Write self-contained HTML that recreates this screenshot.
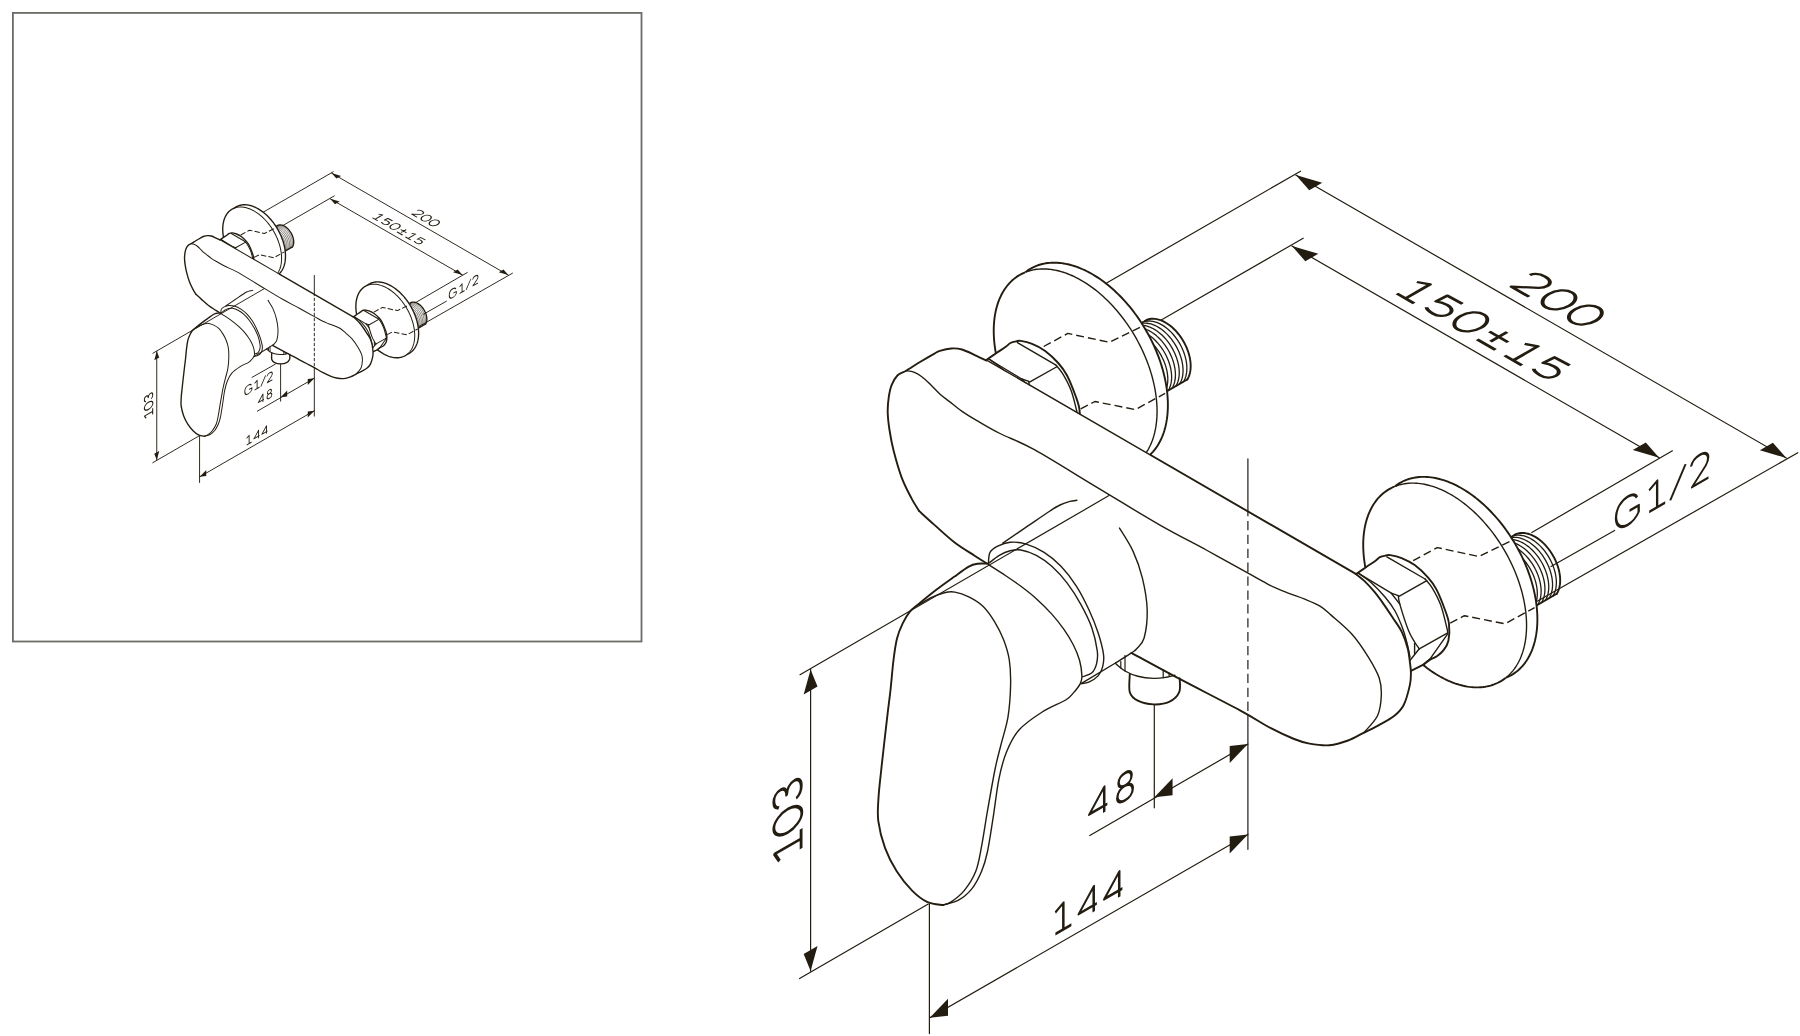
<!DOCTYPE html>
<html><head><meta charset="utf-8"><style>
html,body{margin:0;padding:0;background:#fff;}
svg{display:block;}
path{fill:none;stroke:#231c10;stroke-linecap:round;stroke-linejoin:round;}
.t{stroke-width:var(--t,1.2px)}
.n{stroke-width:var(--n,1.4px)}
.k{stroke-width:var(--k,1.9px)}
.dsh{stroke-dasharray:var(--da,8 4);stroke-linecap:butt}
.th{stroke-width:var(--th,1.3px)}
.dsh2{stroke-dasharray:9.3 4.6;stroke-dashoffset:5;stroke-linecap:butt}
path.ar{fill:#231c10;stroke:none}
path.w{fill:#fff;stroke:none}
.tx path{stroke-linecap:butt;stroke-linejoin:round}
</style></head><body>
<svg width="1800" height="1036" viewBox="0 0 1800 1036">
<rect x="12.9" y="12.9" width="628.6" height="628.6" fill="none" stroke="#6c6c66" stroke-width="1.8"/>
<g id="big">
<path class="t" d="M1295.8,174.9 L1786.3,458"/>
<path class="ar" d="M1295.8,174.9 L1322.21,182.65 L1309.22,190.15Z"/>
<path class="ar" d="M1786.3,458 L1772.88,442.75 L1759.89,450.25Z"/>
<path class="t" d="M1103.6,284.7 L1300.5,171.2"/>
<path class="t" d="M1535,602.6 L1797.8,452.7"/>
<path class="t" d="M1291.9,246 L1659.2,457.8"/>
<path class="ar" d="M1291.9,246 L1318.31,253.75 L1305.32,261.25Z"/>
<path class="ar" d="M1659.2,457.8 L1645.78,442.55 L1632.79,450.05Z"/>
<path class="t" d="M1160.8,320.3 L1303.2,238.2"/>
<path class="t" d="M1531.8,532.5 L1672.4,450.8"/>
<path class="t" d="M1551,566.5 L1614.6,530.4"/>
<path class="t" d="M810.6,669.5 L810.6,971.1"/>
<path class="ar" d="M810.6,669.5 L817.53,686.5 L803.67,694.5Z"/>
<path class="ar" d="M810.6,971.1 L817.53,946.1 L803.67,954.1Z"/>
<path class="t" d="M799.6,978.6 L928.3,904.1"/>
<path class="t" d="M929.4,904.1 L929.4,1033.6"/>
<path class="t" d="M929.8,1017.8 L1247.9,834.4"/>
<path class="ar" d="M929.8,1017.8 L947.99,1015.8 L947.99,998.8Z"/>
<path class="ar" d="M1247.9,834.4 L1229.71,853.4 L1229.71,836.4Z"/>
<path class="t" d="M1247.9,458.9 L1247.9,512"/>
<path class="t" d="M1247.9,714 L1247.9,849.3"/>
<path class="t" d="M1154.3,705 L1154.3,807.8"/>
<path class="t" d="M1089.8,835.6 L1247.9,744.1"/>
<path class="ar" d="M1154.4,797.2 L1172.59,795.2 L1172.59,778.2Z"/>
<path class="ar" d="M1247.9,744.1 L1229.71,763.1 L1229.71,746.1Z"/>
<clipPath id="clipF369"><path clip-rule="evenodd" d="M0,0 H1800 V1036 H0Z M1399.98,482.92 L1404.01,480.86 L1408.25,479.22 L1412.7,478.01 L1417.33,477.23 L1422.13,476.89 L1427.07,476.98 L1432.13,477.51 L1437.3,478.48 L1442.54,479.87 L1447.84,481.69 L1453.17,483.93 L1458.52,486.57 L1463.85,489.61 L1469.15,493.03 L1474.39,496.82 L1479.55,500.97 L1484.6,505.44 L1489.54,510.23 L1494.33,515.32 L1498.95,520.68 L1503.39,526.29 L1507.63,532.12 L1511.64,538.15 L1515.41,544.36 L1518.93,550.72 L1522.18,557.2 L1525.14,563.77 L1527.8,570.41 L1530.16,577.08 L1532.2,583.77 L1533.91,590.43 L1535.28,597.04 L1536.32,603.58 L1537,610.01 L1537.35,616.3 L1537.34,622.44 L1536.98,628.39 L1536.27,634.13 L1535.22,639.64 L1533.83,644.88 L1532.11,649.84 L1530.05,654.5 L1527.68,658.84 L1525,662.83 L1522.03,666.47 L1518.77,669.73 L1515.24,672.6 L1511.45,675.07 L1507.43,677.13 L1503.18,678.77 L1498.73,679.98 L1494.1,680.76 L1489.3,681.1 L1484.36,681.01 L1479.3,680.48 L1474.14,679.51 L1468.89,678.12 L1463.59,676.3 L1458.26,674.06 L1452.92,671.41 L1447.58,668.38 L1442.29,664.95 L1437.05,661.16 L1431.89,657.02 L1426.83,652.54 L1421.89,647.75 L1417.11,642.67 L1412.48,637.31 L1408.04,631.7 L1403.81,625.87 L1399.8,619.83 L1396.02,613.62 L1392.5,607.27 L1389.26,600.79 L1386.3,594.21 L1383.63,587.58 L1381.28,580.9 L1379.24,574.22 L1377.53,567.56 L1376.15,560.95 L1375.12,554.41 L1374.43,547.98 L1374.09,541.68 L1374.1,535.55 L1374.45,529.59 L1375.16,523.85 L1376.21,518.35 L1377.6,513.11 L1379.33,508.14 L1381.38,503.48 L1383.75,499.15 L1386.43,495.16 L1389.41,491.52 L1392.67,488.26 L1396.2,485.39 L1399.98,482.92Z"/></clipPath>
<g clip-path="url(#clipF369)">
<path class="k" d="M1556.77,593.74 L1557.64,592.2 L1558.39,590.54 L1559.01,588.76 L1559.5,586.87 L1559.86,584.89 L1560.09,582.81 L1560.18,580.65 L1560.14,578.42 L1559.96,576.14 L1559.64,573.81 L1559.19,571.44 L1558.62,569.06 L1557.91,566.66 L1557.08,564.26 L1556.13,561.88 L1555.06,559.52 L1553.89,557.19 L1552.61,554.92 L1551.23,552.71 L1549.76,550.56 L1548.21,548.5 L1546.58,546.53 L1544.89,544.66 L1543.13,542.91 L1541.33,541.27 L1539.48,539.76 L1537.6,538.39 L1535.7,537.16 L1533.78,536.07 L1531.87,535.14 L1529.95,534.37 L1528.06,533.77 L1526.18,533.32 L1524.34,533.05 L1522.55,532.94 L1520.81,533.01 L1519.12,533.24 L1517.51,533.64 L1515.98,534.21 L1514.53,534.94"/>
<path class="th" d="M1552.96,595.94 L1553.83,594.4 L1554.58,592.74 L1555.2,590.96 L1555.69,589.07 L1556.05,587.09 L1556.28,585.01 L1556.37,582.85 L1556.32,580.62 L1556.14,578.34 L1555.83,576.01 L1555.38,573.64 L1554.8,571.26 L1554.1,568.86 L1553.27,566.46 L1552.32,564.08 L1551.25,561.72 L1550.08,559.39 L1548.8,557.12 L1547.42,554.91 L1545.95,552.76 L1544.4,550.7 L1542.77,548.73 L1541.08,546.86 L1539.32,545.11 L1537.52,543.47 L1535.67,541.96 L1533.79,540.59 L1531.89,539.36 L1529.97,538.27 L1528.06,537.34 L1526.14,536.57 L1524.24,535.97 L1522.37,535.52 L1520.53,535.25 L1518.74,535.14 L1517,535.21 L1515.31,535.44 L1513.7,535.84 L1512.17,536.41 L1510.72,537.14"/>
<path class="th" d="M1549.15,598.14 L1550.02,596.6 L1550.77,594.94 L1551.39,593.16 L1551.88,591.27 L1552.24,589.29 L1552.47,587.21 L1552.56,585.05 L1552.51,582.82 L1552.33,580.54 L1552.02,578.21 L1551.57,575.84 L1550.99,573.46 L1550.29,571.06 L1549.46,568.66 L1548.51,566.28 L1547.44,563.92 L1546.27,561.59 L1544.99,559.32 L1543.61,557.11 L1542.14,554.96 L1540.59,552.9 L1538.96,550.93 L1537.27,549.06 L1535.51,547.31 L1533.71,545.67 L1531.86,544.16 L1529.98,542.79 L1528.08,541.56 L1526.16,540.47 L1524.24,539.54 L1522.33,538.77 L1520.43,538.17 L1518.56,537.72 L1516.72,537.45 L1514.93,537.34 L1513.19,537.41 L1511.5,537.64 L1509.89,538.04 L1508.36,538.61 L1506.91,539.34"/>
<path class="th" d="M1545.34,600.34 L1546.21,598.8 L1546.96,597.14 L1547.58,595.36 L1548.07,593.47 L1548.43,591.49 L1548.66,589.41 L1548.75,587.25 L1548.7,585.02 L1548.52,582.74 L1548.21,580.41 L1547.76,578.04 L1547.18,575.66 L1546.48,573.26 L1545.65,570.86 L1544.7,568.48 L1543.63,566.12 L1542.46,563.79 L1541.18,561.52 L1539.8,559.31 L1538.33,557.16 L1536.78,555.1 L1535.15,553.13 L1533.45,551.26 L1531.7,549.51 L1529.89,547.87 L1528.05,546.36 L1526.17,544.99 L1524.27,543.76 L1522.35,542.67 L1520.43,541.74 L1518.52,540.97 L1516.62,540.37 L1514.75,539.92 L1512.91,539.65 L1511.12,539.54 L1509.37,539.61 L1507.69,539.84 L1506.08,540.24 L1504.55,540.81 L1503.1,541.54"/>
<path class="th" d="M1541.53,602.54 L1542.4,601 L1543.15,599.34 L1543.77,597.56 L1544.26,595.67 L1544.62,593.69 L1544.85,591.61 L1544.94,589.45 L1544.89,587.22 L1544.71,584.94 L1544.4,582.61 L1543.95,580.24 L1543.37,577.86 L1542.67,575.46 L1541.84,573.06 L1540.89,570.68 L1539.82,568.32 L1538.65,565.99 L1537.37,563.72 L1535.99,561.51 L1534.52,559.36 L1532.97,557.3 L1531.34,555.33 L1529.64,553.46 L1527.89,551.71 L1526.08,550.07 L1524.24,548.56 L1522.36,547.19 L1520.46,545.96 L1518.54,544.87 L1516.62,543.94 L1514.71,543.17 L1512.81,542.57 L1510.94,542.12 L1509.1,541.85 L1507.31,541.74 L1505.56,541.81 L1503.88,542.04 L1502.27,542.44 L1500.74,543.01 L1499.29,543.74"/>
<path class="th" d="M1537.72,604.74 L1538.59,603.2 L1539.34,601.54 L1539.96,599.76 L1540.45,597.87 L1540.81,595.89 L1541.04,593.81 L1541.13,591.65 L1541.08,589.42 L1540.9,587.14 L1540.59,584.81 L1540.14,582.44 L1539.56,580.06 L1538.86,577.66 L1538.03,575.26 L1537.08,572.88 L1536.01,570.52 L1534.83,568.19 L1533.56,565.92 L1532.18,563.71 L1530.71,561.56 L1529.16,559.5 L1527.53,557.53 L1525.83,555.66 L1524.08,553.91 L1522.27,552.27 L1520.43,550.76 L1518.55,549.39 L1516.65,548.16 L1514.73,547.07 L1512.81,546.14 L1510.9,545.37 L1509,544.77 L1507.13,544.32 L1505.29,544.05 L1503.5,543.94 L1501.75,544.01 L1500.07,544.24 L1498.46,544.64 L1496.93,545.21 L1495.48,545.94"/>
<path class="th" d="M1533.91,606.94 L1534.78,605.4 L1535.53,603.74 L1536.15,601.96 L1536.64,600.07 L1537,598.09 L1537.23,596.01 L1537.32,593.85 L1537.27,591.62 L1537.09,589.34 L1536.78,587.01 L1536.33,584.64 L1535.75,582.26 L1535.05,579.86 L1534.22,577.46 L1533.27,575.08 L1532.2,572.72 L1531.02,570.39 L1529.74,568.12 L1528.37,565.91 L1526.9,563.76 L1525.35,561.7 L1523.72,559.73 L1522.02,557.86 L1520.27,556.11 L1518.46,554.47 L1516.62,552.96 L1514.74,551.59 L1512.84,550.36 L1510.92,549.27 L1509,548.34 L1507.09,547.57 L1505.19,546.97 L1503.32,546.52 L1501.48,546.25 L1499.69,546.14 L1497.94,546.21 L1496.26,546.44 L1494.65,546.84 L1493.11,547.41 L1491.67,548.14"/>
<path class="th" d="M1530.1,609.14 L1530.97,607.6 L1531.72,605.94 L1532.34,604.16 L1532.83,602.27 L1533.19,600.29 L1533.42,598.21 L1533.51,596.05 L1533.46,593.82 L1533.28,591.54 L1532.97,589.21 L1532.52,586.84 L1531.94,584.46 L1531.24,582.06 L1530.41,579.66 L1529.46,577.28 L1528.39,574.92 L1527.21,572.59 L1525.93,570.32 L1524.56,568.11 L1523.09,565.96 L1521.54,563.9 L1519.91,561.93 L1518.21,560.06 L1516.46,558.31 L1514.65,556.67 L1512.81,555.16 L1510.93,553.79 L1509.03,552.56 L1507.11,551.47 L1505.19,550.54 L1503.28,549.77 L1501.38,549.17 L1499.51,548.72 L1497.67,548.45 L1495.88,548.34 L1494.13,548.41 L1492.45,548.64 L1490.84,549.04 L1489.3,549.61 L1487.85,550.34"/>
<path class="th" d="M1526.28,611.34 L1527.16,609.8 L1527.91,608.14 L1528.53,606.36 L1529.02,604.47 L1529.38,602.49 L1529.61,600.41 L1529.7,598.25 L1529.65,596.02 L1529.47,593.74 L1529.16,591.41 L1528.71,589.04 L1528.13,586.66 L1527.43,584.26 L1526.59,581.86 L1525.64,579.48 L1524.58,577.12 L1523.4,574.79 L1522.12,572.52 L1520.75,570.31 L1519.28,568.16 L1517.73,566.1 L1516.1,564.13 L1514.4,562.26 L1512.65,560.51 L1510.84,558.87 L1509,557.36 L1507.12,555.99 L1505.22,554.76 L1503.3,553.67 L1501.38,552.74 L1499.47,551.97 L1497.57,551.37 L1495.7,550.92 L1493.86,550.65 L1492.07,550.54 L1490.32,550.61 L1488.64,550.84 L1487.03,551.24 L1485.49,551.81 L1484.04,552.54"/>
<path class="n" d="M1514.53,534.94 L1484.04,552.54"/>
<path class="k" d="M1556.77,593.74 L1526.28,611.34"/>
</g>
<path class="w" d="M1389.16,489.17 L1393.18,487.11 L1397.43,485.47 L1401.87,484.26 L1406.51,483.48 L1411.3,483.14 L1416.24,483.23 L1421.31,483.76 L1426.47,484.73 L1431.71,486.12 L1437.01,487.94 L1442.35,490.18 L1447.69,492.82 L1453.02,495.86 L1458.32,499.28 L1463.56,503.07 L1468.72,507.22 L1473.78,511.69 L1478.71,516.48 L1483.5,521.57 L1488.13,526.93 L1492.57,532.54 L1496.8,538.37 L1500.81,544.4 L1504.59,550.61 L1508.1,556.97 L1511.35,563.45 L1514.31,570.02 L1516.98,576.66 L1519.33,583.33 L1521.37,590.02 L1523.08,596.68 L1524.46,603.29 L1525.49,609.83 L1526.18,616.26 L1526.52,622.55 L1526.51,628.69 L1526.15,634.64 L1525.45,640.38 L1524.4,645.89 L1523.01,651.13 L1521.28,656.09 L1519.23,660.75 L1516.86,665.09 L1514.18,669.08 L1511.2,672.72 L1507.94,675.98 L1504.41,678.85 L1500.63,681.32 L1496.6,683.38 L1492.36,685.02 L1487.91,686.23 L1483.28,687.01 L1478.48,687.35 L1473.54,687.26 L1468.48,686.73 L1463.31,685.76 L1458.07,684.37 L1452.77,682.55 L1447.44,680.31 L1442.09,677.66 L1436.76,674.63 L1431.46,671.2 L1426.22,667.41 L1421.06,663.27 L1416,658.79 L1411.07,654 L1406.28,648.92 L1401.66,643.56 L1397.22,637.95 L1392.98,632.12 L1388.97,626.08 L1385.2,619.87 L1381.68,613.52 L1378.43,607.04 L1375.47,600.46 L1372.81,593.83 L1370.45,587.15 L1368.41,580.47 L1366.7,573.81 L1365.33,567.2 L1364.29,560.66 L1363.6,554.23 L1363.26,547.93 L1363.27,541.8 L1363.63,535.84 L1364.33,530.1 L1365.39,524.6 L1366.78,519.36 L1368.5,514.39 L1370.56,509.73 L1372.93,505.4 L1375.61,501.41 L1378.58,497.77 L1381.84,494.51 L1385.37,491.64 L1389.16,489.17Z"/>
<path class="w" d="M1399.98,482.92 L1404.01,480.86 L1408.25,479.22 L1412.7,478.01 L1417.33,477.23 L1422.13,476.89 L1427.07,476.98 L1432.13,477.51 L1437.3,478.48 L1442.54,479.87 L1447.84,481.69 L1453.17,483.93 L1458.52,486.57 L1463.85,489.61 L1469.15,493.03 L1474.39,496.82 L1479.55,500.97 L1484.6,505.44 L1489.54,510.23 L1494.33,515.32 L1498.95,520.68 L1503.39,526.29 L1507.63,532.12 L1511.64,538.15 L1515.41,544.36 L1518.93,550.72 L1522.18,557.2 L1525.14,563.77 L1527.8,570.41 L1530.16,577.08 L1532.2,583.77 L1533.91,590.43 L1535.28,597.04 L1536.32,603.58 L1537,610.01 L1537.35,616.3 L1537.34,622.44 L1536.98,628.39 L1536.27,634.13 L1535.22,639.64 L1533.83,644.88 L1532.11,649.84 L1530.05,654.5 L1527.68,658.84 L1525,662.83 L1522.03,666.47 L1518.77,669.73 L1515.24,672.6 L1511.45,675.07 L1507.43,677.13 L1503.18,678.77 L1498.73,679.98 L1494.1,680.76 L1489.3,681.1 L1484.36,681.01 L1479.3,680.48 L1474.14,679.51 L1468.89,678.12 L1463.59,676.3 L1458.26,674.06 L1452.92,671.41 L1447.58,668.38 L1442.29,664.95 L1437.05,661.16 L1431.89,657.02 L1426.83,652.54 L1421.89,647.75 L1417.11,642.67 L1412.48,637.31 L1408.04,631.7 L1403.81,625.87 L1399.8,619.83 L1396.02,613.62 L1392.5,607.27 L1389.26,600.79 L1386.3,594.21 L1383.63,587.58 L1381.28,580.9 L1379.24,574.22 L1377.53,567.56 L1376.15,560.95 L1375.12,554.41 L1374.43,547.98 L1374.09,541.68 L1374.1,535.55 L1374.45,529.59 L1375.16,523.85 L1376.21,518.35 L1377.6,513.11 L1379.33,508.14 L1381.38,503.48 L1383.75,499.15 L1386.43,495.16 L1389.41,491.52 L1392.67,488.26 L1396.2,485.39 L1399.98,482.92Z"/>
<path class="w" d="M1500.55,681.36 L1505.07,678.36 L1509.21,674.78 L1512.96,670.65 L1516.29,665.99 L1519.18,660.84 L1521.62,655.22 L1523.57,649.17 L1525.05,642.72 L1526.03,635.92 L1526.51,628.81 L1526.48,621.43 L1525.96,613.82 L1524.93,606.04 L1523.41,598.14 L1521.41,590.15 L1518.93,582.13 L1516,574.13 L1512.63,566.2 L1508.84,558.39 L1504.66,550.74 L1500.11,543.3 L1495.22,536.13 L1490.01,529.25 L1484.53,522.72 L1478.81,516.58 L1472.88,510.86 L1466.77,505.6 L1460.53,500.83 L1454.19,496.58 L1447.8,492.88 L1441.38,489.74 L1434.99,487.2 L1428.66,485.26 L1422.43,483.94 L1416.34,483.24 L1410.43,483.17 L1404.72,483.73 L1399.27,484.91 L1394.09,486.71 L1389.23,489.12 L1400.06,482.87 L1404.92,480.46 L1410.09,478.66 L1415.55,477.48 L1421.25,476.92 L1427.17,476.99 L1433.26,477.69 L1439.49,479.01 L1445.82,480.95 L1452.21,483.49 L1458.62,486.63 L1465.02,490.33 L1471.35,494.58 L1477.59,499.35 L1483.7,504.61 L1489.63,510.33 L1495.36,516.47 L1500.84,523 L1506.04,529.88 L1510.93,537.05 L1515.48,544.49 L1519.67,552.14 L1523.45,559.95 L1526.82,567.88 L1529.76,575.88 L1532.23,583.9 L1534.24,591.89 L1535.76,599.79 L1536.78,607.57 L1537.31,615.18 L1537.33,622.56 L1536.85,629.67 L1535.87,636.47 L1534.4,642.92 L1532.44,648.97 L1530.01,654.59 L1527.12,659.74 L1523.79,664.4 L1520.04,668.53 L1515.89,672.11 L1511.37,675.11Z"/>
<path class="k" d="M1505.14,678.3 L1503.67,679.37 L1502.17,680.38 L1500.63,681.32 L1499.04,682.19 L1497.42,683 L1495.77,683.74 L1494.08,684.41 L1492.36,685.02 L1490.6,685.55 L1488.81,686.02 L1487,686.42 L1485.15,686.75 L1483.28,687.01 L1481.38,687.2 L1479.45,687.32 L1477.5,687.37 L1475.53,687.35 L1473.54,687.26 L1471.53,687.1 L1469.5,686.87 L1467.45,686.57 L1465.39,686.2 L1463.31,685.76 L1461.22,685.25 L1459.12,684.68 L1457.01,684.03 L1454.89,683.32 L1452.77,682.55 L1450.64,681.7 L1448.5,680.79 L1446.37,679.81 L1444.23,678.77 L1442.09,677.66 L1439.96,676.5 L1437.82,675.26 L1435.7,673.97 L1433.57,672.62 L1431.46,671.2 L1429.36,669.73 L1427.26,668.2 L1425.18,666.61 L1423.11,664.97 L1421.06,663.27 L1419.02,661.52 L1417.01,659.72 L1415.01,657.86 L1413.03,655.96 L1411.07,654 L1409.14,652 L1407.23,649.96 L1405.34,647.87 L1403.48,645.73 L1401.66,643.56 L1399.86,641.34 L1398.09,639.09 L1396.35,636.8 L1394.65,634.48 L1392.98,632.12 L1391.35,629.73 L1389.75,627.3 L1388.2,624.85 L1386.68,622.38 L1385.2,619.87 L1383.76,617.35 L1382.36,614.8 L1381.01,612.23 L1379.7,609.64 L1378.43,607.04 L1377.21,604.42 L1376.04,601.79 L1374.91,599.14 L1373.84,596.49 L1372.81,593.83 L1371.83,591.16 L1370.9,588.49 L1370.02,585.82 L1369.19,583.14 L1368.41,580.47 L1367.69,577.8 L1367.02,575.14 L1366.4,572.48 L1365.84,569.83 L1365.33,567.2 L1364.87,564.57 L1364.47,561.96 L1364.13,559.37 L1363.84,556.79 L1363.6,554.23 L1363.43,551.69 L1363.3,549.18 L1363.24,546.69 L1363.23,544.23 L1363.27,541.8 L1363.37,539.39 L1363.53,537.02 L1363.74,534.68 L1364.01,532.37 L1364.33,530.1 L1364.71,527.87 L1365.15,525.68 L1365.64,523.53 L1366.18,521.42 L1366.78,519.36 L1367.43,517.34 L1368.13,515.36 L1368.89,513.44 L1369.7,511.56 L1370.56,509.73 L1371.47,507.96 L1372.43,506.24 L1373.44,504.57 L1374.5,502.96 L1375.61,501.41 L1376.76,499.91 L1377.96,498.47 L1379.21,497.09 L1380.51,495.77 L1381.84,494.51 L1383.22,493.32 L1384.65,492.18 L1386.11,491.11 L1387.61,490.11 L1389.16,489.17 L1390.74,488.3 L1392.36,487.49 L1394.01,486.75"/>
<path class="n" d="M1395.7,486.08 L1397.43,485.47 L1399.18,484.94 L1400.97,484.47 L1402.79,484.07 L1404.63,483.74 L1406.51,483.48 L1408.41,483.29 L1410.33,483.17 L1412.28,483.12 L1414.25,483.14 L1416.24,483.23 L1418.26,483.39 L1420.29,483.62 L1422.33,483.92 L1424.4,484.29 L1426.47,484.73 L1428.56,485.23 L1430.66,485.81 L1432.77,486.45 L1434.89,487.16 L1437.01,487.94 L1439.14,488.79 L1441.28,489.7 L1443.42,490.67 L1445.55,491.72 L1447.69,492.82 L1449.83,493.99 L1451.96,495.22 L1454.09,496.52 L1456.21,497.87 L1458.32,499.28 L1460.43,500.76 L1462.52,502.29 L1464.6,503.87 L1466.67,505.52 L1468.72,507.22 L1470.76,508.97 L1472.78,510.77 L1474.78,512.63 L1476.76,514.53 L1478.71,516.48 L1480.65,518.48 L1482.56,520.53 L1484.44,522.62 L1486.3,524.75 L1488.13,526.93 L1489.93,529.14 L1491.69,531.4 L1493.43,533.69 L1495.13,536.01 L1496.8,538.37 L1498.43,540.76 L1500.03,543.18 L1501.59,545.63 L1503.11,548.11 L1504.59,550.61 L1506.02,553.14 L1507.42,555.69 L1508.77,558.26 L1510.08,560.85 L1511.35,563.45 L1512.57,566.07 L1513.74,568.7 L1514.87,571.35 L1515.95,574 L1516.98,576.66 L1517.96,579.33 L1518.89,582 L1519.77,584.67 L1520.59,587.34 L1521.37,590.02 L1522.09,592.68 L1522.76,595.35 L1523.38,598 L1523.95,600.65 L1524.46,603.29 L1524.91,605.92 L1525.31,608.53 L1525.66,611.12 L1525.94,613.7 L1526.18,616.26 L1526.36,618.79 L1526.48,621.31 L1526.55,623.79 L1526.56,626.26 L1526.51,628.69 L1526.41,631.1 L1526.25,633.47 L1526.04,635.81 L1525.77,638.11 L1525.45,640.38 L1525.07,642.61 L1524.63,644.81 L1524.15,646.96 L1523.6,649.07 L1523.01,651.13 L1522.36,653.15 L1521.65,655.12 L1520.9,657.05 L1520.09,658.93 L1519.23,660.75 L1518.32,662.53 L1517.36,664.25 L1516.34,665.91 L1515.28,667.53 L1514.18,669.08 L1513.02,670.58 L1511.82,672.02 L1510.57,673.4 L1509.28,674.72 L1507.94,675.98 L1506.56,677.17"/>
<path class="k" d="M1395.47,485.93 L1396.93,484.86 L1398.44,483.86 L1399.98,482.92 L1401.56,482.05 L1403.18,481.24 L1404.84,480.5 L1406.53,479.83 L1408.25,479.22 L1410.01,478.69 L1411.79,478.22 L1413.61,477.82 L1415.46,477.49 L1417.33,477.23 L1419.23,477.04 L1421.16,476.92 L1423.11,476.87 L1425.08,476.89 L1427.07,476.98 L1429.08,477.14 L1431.11,477.37 L1433.16,477.67 L1435.22,478.04 L1437.3,478.48 L1439.39,478.98 L1441.49,479.56 L1443.6,480.2 L1445.71,480.91 L1447.84,481.69 L1449.97,482.54 L1452.1,483.45 L1454.24,484.42 L1456.38,485.47 L1458.52,486.57 L1460.65,487.74 L1462.78,488.97 L1464.91,490.27 L1467.03,491.62 L1469.15,493.03 L1471.25,494.51 L1473.34,496.04 L1475.43,497.62 L1477.49,499.27 L1479.55,500.97 L1481.58,502.72 L1483.6,504.52 L1485.6,506.38 L1487.58,508.28 L1489.54,510.23 L1491.47,512.23 L1493.38,514.28 L1495.27,516.37 L1497.12,518.5 L1498.95,520.68 L1500.75,522.89 L1502.52,525.15 L1504.25,527.44 L1505.96,529.76 L1507.63,532.12 L1509.26,534.51 L1510.85,536.93 L1512.41,539.38 L1513.93,541.86 L1515.41,544.36 L1516.85,546.89 L1518.25,549.44 L1519.6,552.01 L1520.91,554.6 L1522.18,557.2 L1523.39,559.82 L1524.57,562.45 L1525.69,565.1 L1526.77,567.75 L1527.8,570.41 L1528.78,573.08 L1529.71,575.75 L1530.59,578.42 L1531.42,581.09 L1532.2,583.77 L1532.92,586.43 L1533.59,589.1 L1534.21,591.75 L1534.77,594.4 L1535.28,597.04 L1535.74,599.67 L1536.14,602.28 L1536.48,604.87 L1536.77,607.45 L1537,610.01 L1537.18,612.54 L1537.31,615.06 L1537.37,617.54 L1537.38,620.01 L1537.34,622.44 L1537.24,624.85 L1537.08,627.22 L1536.87,629.56 L1536.6,631.86 L1536.27,634.13 L1535.89,636.36 L1535.46,638.56 L1534.97,640.71 L1534.43,642.82 L1533.83,644.88 L1533.18,646.9 L1532.48,648.87 L1531.72,650.8 L1530.91,652.68 L1530.05,654.5 L1529.14,656.28 L1528.18,658 L1527.17,659.66 L1526.11,661.28 L1525,662.83 L1523.85,664.33 L1522.64,665.77 L1521.4,667.15 L1520.1,668.47 L1518.77,669.73 L1517.39,670.92 L1515.96,672.05 L1514.5,673.12 L1512.99,674.13 L1511.45,675.07 L1509.87,675.94 L1508.25,676.75 L1506.6,677.49"/>
<path class="w" d="M1355.8,573.5 L1375.6,560.7 L1386,555.5 L1390.3,555.1 L1401.6,558.1 L1414.7,565.1 L1427.7,577.2 L1436.4,589.4 L1445.1,610.2 L1449,624 L1448.4,640.7 L1443.6,650.1 L1436.9,656.2 L1423.4,664.7 L1410.5,671.1 L1407.9,672.4 L1406.9,662.3 L1404.8,648.8 L1398.8,631.9 L1389.9,618 L1380.6,604.1 L1371.3,591.7 L1361.3,580.9 L1352.8,573.9Z"/>
<path class="k" d="M1356.5,573.7 C1358.08,572.62 1362.82,569.37 1366,567.2 C1369.18,565.03 1373.28,562.37 1375.6,560.7 C1377.92,559.03 1378.17,558.07 1379.9,557.2 C1381.63,556.33 1384.27,555.85 1386,555.5 C1387.73,555.15 1387.7,554.67 1390.3,555.1 C1392.9,555.53 1397.53,556.43 1401.6,558.1 C1405.67,559.77 1410.35,561.92 1414.7,565.1 C1419.05,568.28 1424.08,573.15 1427.7,577.2 C1431.32,581.25 1433.5,583.9 1436.4,589.4 C1439.3,594.9 1443,604.43 1445.1,610.2 C1447.2,615.97 1448.45,618.92 1449,624 C1449.55,629.08 1449.3,636.35 1448.4,640.7 C1447.5,645.05 1445.52,647.52 1443.6,650.1 C1441.68,652.68 1439.15,654.62 1436.9,656.2 C1434.65,657.78 1432.35,658.18 1430.1,659.6 C1427.85,661.02 1424.52,663.85 1423.4,664.7"/>
<path class="n" d="M1386.9,556.8 L1425.1,579"/>
<path class="n" d="M1425.1,579 C1426.25,580.43 1429.4,583.27 1432,587.6 C1434.6,591.93 1438.23,598.33 1440.7,605 C1443.17,611.67 1445.63,622.95 1446.8,627.6 C1447.97,632.25 1447.55,632.02 1447.7,632.9"/>
<path class="n" d="M1358.1,573.2 L1391.3,593.2 L1398.3,595.6"/>
<path class="n" d="M1399,596.3 L1426.8,580.7"/>
<path class="n" d="M1398.3,595.6 C1398.55,597.02 1398.13,598.37 1399.8,604.1 C1401.47,609.83 1405.83,623.68 1408.3,630 C1410.77,636.32 1412.77,638.87 1414.6,642 C1416.43,645.13 1418.52,647.67 1419.3,648.8"/>
<path class="n" d="M1391.3,593.2 L1399.8,604.1"/>
<path class="n" d="M1419.3,648.8 L1447.7,632.9"/>
<path class="n" d="M1447.7,633.9 L1430.1,658.9 L1423.4,664.3"/>
<path class="n" d="M1419.3,648.8 L1409.5,661"/>
<path class="n" d="M1414.6,643.4 L1414.6,653.5"/>
<path class="k" d="M1410.5,671.1 L1423.4,664.7"/>
<path class="n" d="M1359,573.5 C1361,575 1366.67,578.58 1371,582.5 C1375.33,586.42 1381,592.25 1385,597 C1389,601.75 1392.08,605.83 1395,611 C1397.92,616.17 1400.5,622.67 1402.5,628 C1404.5,633.33 1405.75,638.17 1407,643 C1408.25,647.83 1409.5,654.67 1410,657"/>
<clipPath id="clipF0"><path clip-rule="evenodd" d="M0,0 H1800 V1036 H0Z M1030.48,268.72 L1034.51,266.66 L1038.75,265.02 L1043.2,263.81 L1047.83,263.03 L1052.63,262.69 L1057.57,262.78 L1062.63,263.31 L1067.8,264.28 L1073.04,265.67 L1078.34,267.49 L1083.67,269.73 L1089.02,272.37 L1094.35,275.41 L1099.65,278.83 L1104.89,282.62 L1110.05,286.77 L1115.1,291.24 L1120.04,296.03 L1124.83,301.12 L1129.45,306.48 L1133.89,312.09 L1138.13,317.92 L1142.14,323.95 L1145.91,330.16 L1149.43,336.52 L1152.68,343 L1155.64,349.57 L1158.3,356.21 L1160.66,362.88 L1162.7,369.57 L1164.41,376.23 L1165.78,382.84 L1166.82,389.38 L1167.5,395.81 L1167.85,402.1 L1167.84,408.24 L1167.48,414.19 L1166.77,419.93 L1165.72,425.44 L1164.33,430.68 L1162.61,435.64 L1160.55,440.3 L1158.18,444.64 L1155.5,448.63 L1152.53,452.27 L1149.27,455.53 L1145.74,458.4 L1141.95,460.87 L1137.93,462.93 L1133.68,464.57 L1129.23,465.78 L1124.6,466.56 L1119.8,466.9 L1114.86,466.81 L1109.8,466.28 L1104.64,465.31 L1099.39,463.92 L1094.09,462.1 L1088.76,459.86 L1083.42,457.21 L1078.08,454.18 L1072.79,450.75 L1067.55,446.96 L1062.39,442.82 L1057.33,438.34 L1052.39,433.55 L1047.61,428.47 L1042.98,423.11 L1038.54,417.5 L1034.31,411.67 L1030.3,405.63 L1026.52,399.42 L1023,393.07 L1019.76,386.59 L1016.8,380.01 L1014.13,373.38 L1011.78,366.7 L1009.74,360.02 L1008.03,353.36 L1006.65,346.75 L1005.62,340.21 L1004.93,333.78 L1004.59,327.48 L1004.6,321.35 L1004.95,315.39 L1005.66,309.65 L1006.71,304.15 L1008.1,298.91 L1009.83,293.94 L1011.88,289.28 L1014.25,284.95 L1016.93,280.96 L1019.91,277.32 L1023.17,274.06 L1026.7,271.19 L1030.48,268.72Z"/></clipPath>
<g clip-path="url(#clipF0)">
<path class="k" d="M1187.27,379.54 L1188.14,378 L1188.89,376.34 L1189.51,374.56 L1190,372.67 L1190.36,370.69 L1190.59,368.61 L1190.68,366.45 L1190.64,364.22 L1190.46,361.94 L1190.14,359.61 L1189.69,357.24 L1189.12,354.86 L1188.41,352.46 L1187.58,350.06 L1186.63,347.68 L1185.56,345.32 L1184.39,342.99 L1183.11,340.72 L1181.73,338.51 L1180.26,336.36 L1178.71,334.3 L1177.08,332.33 L1175.39,330.46 L1173.63,328.71 L1171.83,327.07 L1169.98,325.56 L1168.1,324.19 L1166.2,322.96 L1164.28,321.87 L1162.37,320.94 L1160.45,320.17 L1158.56,319.57 L1156.68,319.12 L1154.84,318.85 L1153.05,318.74 L1151.31,318.81 L1149.62,319.04 L1148.01,319.44 L1146.48,320.01 L1145.03,320.74"/>
<path class="th" d="M1183.46,381.74 L1184.33,380.2 L1185.08,378.54 L1185.7,376.76 L1186.19,374.87 L1186.55,372.89 L1186.78,370.81 L1186.87,368.65 L1186.82,366.42 L1186.64,364.14 L1186.33,361.81 L1185.88,359.44 L1185.3,357.06 L1184.6,354.66 L1183.77,352.26 L1182.82,349.88 L1181.75,347.52 L1180.58,345.19 L1179.3,342.92 L1177.92,340.71 L1176.45,338.56 L1174.9,336.5 L1173.27,334.53 L1171.58,332.66 L1169.82,330.91 L1168.02,329.27 L1166.17,327.76 L1164.29,326.39 L1162.39,325.16 L1160.47,324.07 L1158.56,323.14 L1156.64,322.37 L1154.74,321.77 L1152.87,321.32 L1151.03,321.05 L1149.24,320.94 L1147.5,321.01 L1145.81,321.24 L1144.2,321.64 L1142.67,322.21 L1141.22,322.94"/>
<path class="th" d="M1179.65,383.94 L1180.52,382.4 L1181.27,380.74 L1181.89,378.96 L1182.38,377.07 L1182.74,375.09 L1182.97,373.01 L1183.06,370.85 L1183.01,368.62 L1182.83,366.34 L1182.52,364.01 L1182.07,361.64 L1181.49,359.26 L1180.79,356.86 L1179.96,354.46 L1179.01,352.08 L1177.94,349.72 L1176.77,347.39 L1175.49,345.12 L1174.11,342.91 L1172.64,340.76 L1171.09,338.7 L1169.46,336.73 L1167.77,334.86 L1166.01,333.11 L1164.21,331.47 L1162.36,329.96 L1160.48,328.59 L1158.58,327.36 L1156.66,326.27 L1154.74,325.34 L1152.83,324.57 L1150.93,323.97 L1149.06,323.52 L1147.22,323.25 L1145.43,323.14 L1143.69,323.21 L1142,323.44 L1140.39,323.84 L1138.86,324.41 L1137.41,325.14"/>
<path class="th" d="M1175.84,386.14 L1176.71,384.6 L1177.46,382.94 L1178.08,381.16 L1178.57,379.27 L1178.93,377.29 L1179.16,375.21 L1179.25,373.05 L1179.2,370.82 L1179.02,368.54 L1178.71,366.21 L1178.26,363.84 L1177.68,361.46 L1176.98,359.06 L1176.15,356.66 L1175.2,354.28 L1174.13,351.92 L1172.96,349.59 L1171.68,347.32 L1170.3,345.11 L1168.83,342.96 L1167.28,340.9 L1165.65,338.93 L1163.95,337.06 L1162.2,335.31 L1160.39,333.67 L1158.55,332.16 L1156.67,330.79 L1154.77,329.56 L1152.85,328.47 L1150.93,327.54 L1149.02,326.77 L1147.12,326.17 L1145.25,325.72 L1143.41,325.45 L1141.62,325.34 L1139.87,325.41 L1138.19,325.64 L1136.58,326.04 L1135.05,326.61 L1133.6,327.34"/>
<path class="th" d="M1172.03,388.34 L1172.9,386.8 L1173.65,385.14 L1174.27,383.36 L1174.76,381.47 L1175.12,379.49 L1175.35,377.41 L1175.44,375.25 L1175.39,373.02 L1175.21,370.74 L1174.9,368.41 L1174.45,366.04 L1173.87,363.66 L1173.17,361.26 L1172.34,358.86 L1171.39,356.48 L1170.32,354.12 L1169.15,351.79 L1167.87,349.52 L1166.49,347.31 L1165.02,345.16 L1163.47,343.1 L1161.84,341.13 L1160.14,339.26 L1158.39,337.51 L1156.58,335.87 L1154.74,334.36 L1152.86,332.99 L1150.96,331.76 L1149.04,330.67 L1147.12,329.74 L1145.21,328.97 L1143.31,328.37 L1141.44,327.92 L1139.6,327.65 L1137.81,327.54 L1136.06,327.61 L1134.38,327.84 L1132.77,328.24 L1131.24,328.81 L1129.79,329.54"/>
<path class="th" d="M1168.22,390.54 L1169.09,389 L1169.84,387.34 L1170.46,385.56 L1170.95,383.67 L1171.31,381.69 L1171.54,379.61 L1171.63,377.45 L1171.58,375.22 L1171.4,372.94 L1171.09,370.61 L1170.64,368.24 L1170.06,365.86 L1169.36,363.46 L1168.53,361.06 L1167.58,358.68 L1166.51,356.32 L1165.33,353.99 L1164.06,351.72 L1162.68,349.51 L1161.21,347.36 L1159.66,345.3 L1158.03,343.33 L1156.33,341.46 L1154.58,339.71 L1152.77,338.07 L1150.93,336.56 L1149.05,335.19 L1147.15,333.96 L1145.23,332.87 L1143.31,331.94 L1141.4,331.17 L1139.5,330.57 L1137.63,330.12 L1135.79,329.85 L1134,329.74 L1132.25,329.81 L1130.57,330.04 L1128.96,330.44 L1127.43,331.01 L1125.98,331.74"/>
<path class="th" d="M1164.41,392.74 L1165.28,391.2 L1166.03,389.54 L1166.65,387.76 L1167.14,385.87 L1167.5,383.89 L1167.73,381.81 L1167.82,379.65 L1167.77,377.42 L1167.59,375.14 L1167.28,372.81 L1166.83,370.44 L1166.25,368.06 L1165.55,365.66 L1164.72,363.26 L1163.77,360.88 L1162.7,358.52 L1161.52,356.19 L1160.24,353.92 L1158.87,351.71 L1157.4,349.56 L1155.85,347.5 L1154.22,345.53 L1152.52,343.66 L1150.77,341.91 L1148.96,340.27 L1147.12,338.76 L1145.24,337.39 L1143.34,336.16 L1141.42,335.07 L1139.5,334.14 L1137.59,333.37 L1135.69,332.77 L1133.82,332.32 L1131.98,332.05 L1130.19,331.94 L1128.44,332.01 L1126.76,332.24 L1125.15,332.64 L1123.61,333.21 L1122.17,333.94"/>
<path class="th" d="M1160.6,394.94 L1161.47,393.4 L1162.22,391.74 L1162.84,389.96 L1163.33,388.07 L1163.69,386.09 L1163.92,384.01 L1164.01,381.85 L1163.96,379.62 L1163.78,377.34 L1163.47,375.01 L1163.02,372.64 L1162.44,370.26 L1161.74,367.86 L1160.91,365.46 L1159.96,363.08 L1158.89,360.72 L1157.71,358.39 L1156.43,356.12 L1155.06,353.91 L1153.59,351.76 L1152.04,349.7 L1150.41,347.73 L1148.71,345.86 L1146.96,344.11 L1145.15,342.47 L1143.31,340.96 L1141.43,339.59 L1139.53,338.36 L1137.61,337.27 L1135.69,336.34 L1133.78,335.57 L1131.88,334.97 L1130.01,334.52 L1128.17,334.25 L1126.38,334.14 L1124.63,334.21 L1122.95,334.44 L1121.34,334.84 L1119.8,335.41 L1118.35,336.14"/>
<path class="th" d="M1156.78,397.14 L1157.66,395.6 L1158.41,393.94 L1159.03,392.16 L1159.52,390.27 L1159.88,388.29 L1160.11,386.21 L1160.2,384.05 L1160.15,381.82 L1159.97,379.54 L1159.66,377.21 L1159.21,374.84 L1158.63,372.46 L1157.93,370.06 L1157.09,367.66 L1156.14,365.28 L1155.08,362.92 L1153.9,360.59 L1152.62,358.32 L1151.25,356.11 L1149.78,353.96 L1148.23,351.9 L1146.6,349.93 L1144.9,348.06 L1143.15,346.31 L1141.34,344.67 L1139.5,343.16 L1137.62,341.79 L1135.72,340.56 L1133.8,339.47 L1131.88,338.54 L1129.97,337.77 L1128.07,337.17 L1126.2,336.72 L1124.36,336.45 L1122.57,336.34 L1120.82,336.41 L1119.14,336.64 L1117.53,337.04 L1115.99,337.61 L1114.54,338.34"/>
<path class="n" d="M1145.03,320.74 L1114.54,338.34"/>
<path class="k" d="M1187.27,379.54 L1156.78,397.14"/>
</g>
<path class="w" d="M1019.66,274.97 L1023.68,272.91 L1027.93,271.27 L1032.37,270.06 L1037.01,269.28 L1041.8,268.94 L1046.74,269.03 L1051.81,269.56 L1056.97,270.53 L1062.21,271.92 L1067.51,273.74 L1072.85,275.98 L1078.19,278.62 L1083.52,281.66 L1088.82,285.08 L1094.06,288.87 L1099.22,293.02 L1104.28,297.49 L1109.21,302.28 L1114,307.37 L1118.63,312.73 L1123.07,318.34 L1127.3,324.17 L1131.31,330.2 L1135.09,336.41 L1138.6,342.77 L1141.85,349.25 L1144.81,355.82 L1147.48,362.46 L1149.83,369.13 L1151.87,375.82 L1153.58,382.48 L1154.96,389.09 L1155.99,395.63 L1156.68,402.06 L1157.02,408.35 L1157.01,414.49 L1156.65,420.44 L1155.95,426.18 L1154.9,431.69 L1153.51,436.93 L1151.78,441.89 L1149.73,446.55 L1147.36,450.89 L1144.68,454.88 L1141.7,458.52 L1138.44,461.78 L1134.91,464.65 L1131.13,467.12 L1127.1,469.18 L1122.86,470.82 L1118.41,472.03 L1113.78,472.81 L1108.98,473.15 L1104.04,473.06 L1098.98,472.53 L1093.81,471.56 L1088.57,470.17 L1083.27,468.35 L1077.94,466.11 L1072.59,463.46 L1067.26,460.43 L1061.96,457 L1056.72,453.21 L1051.56,449.07 L1046.5,444.59 L1041.57,439.8 L1036.78,434.72 L1032.16,429.36 L1027.72,423.75 L1023.48,417.92 L1019.47,411.88 L1015.7,405.67 L1012.18,399.32 L1008.93,392.84 L1005.97,386.26 L1003.31,379.63 L1000.95,372.95 L998.91,366.27 L997.2,359.61 L995.83,353 L994.79,346.46 L994.1,340.03 L993.76,333.73 L993.77,327.6 L994.13,321.64 L994.83,315.9 L995.89,310.4 L997.28,305.16 L999,300.19 L1001.06,295.53 L1003.43,291.2 L1006.11,287.21 L1009.08,283.57 L1012.34,280.31 L1015.87,277.44 L1019.66,274.97Z"/>
<path class="w" d="M1030.48,268.72 L1034.51,266.66 L1038.75,265.02 L1043.2,263.81 L1047.83,263.03 L1052.63,262.69 L1057.57,262.78 L1062.63,263.31 L1067.8,264.28 L1073.04,265.67 L1078.34,267.49 L1083.67,269.73 L1089.02,272.37 L1094.35,275.41 L1099.65,278.83 L1104.89,282.62 L1110.05,286.77 L1115.1,291.24 L1120.04,296.03 L1124.83,301.12 L1129.45,306.48 L1133.89,312.09 L1138.13,317.92 L1142.14,323.95 L1145.91,330.16 L1149.43,336.52 L1152.68,343 L1155.64,349.57 L1158.3,356.21 L1160.66,362.88 L1162.7,369.57 L1164.41,376.23 L1165.78,382.84 L1166.82,389.38 L1167.5,395.81 L1167.85,402.1 L1167.84,408.24 L1167.48,414.19 L1166.77,419.93 L1165.72,425.44 L1164.33,430.68 L1162.61,435.64 L1160.55,440.3 L1158.18,444.64 L1155.5,448.63 L1152.53,452.27 L1149.27,455.53 L1145.74,458.4 L1141.95,460.87 L1137.93,462.93 L1133.68,464.57 L1129.23,465.78 L1124.6,466.56 L1119.8,466.9 L1114.86,466.81 L1109.8,466.28 L1104.64,465.31 L1099.39,463.92 L1094.09,462.1 L1088.76,459.86 L1083.42,457.21 L1078.08,454.18 L1072.79,450.75 L1067.55,446.96 L1062.39,442.82 L1057.33,438.34 L1052.39,433.55 L1047.61,428.47 L1042.98,423.11 L1038.54,417.5 L1034.31,411.67 L1030.3,405.63 L1026.52,399.42 L1023,393.07 L1019.76,386.59 L1016.8,380.01 L1014.13,373.38 L1011.78,366.7 L1009.74,360.02 L1008.03,353.36 L1006.65,346.75 L1005.62,340.21 L1004.93,333.78 L1004.59,327.48 L1004.6,321.35 L1004.95,315.39 L1005.66,309.65 L1006.71,304.15 L1008.1,298.91 L1009.83,293.94 L1011.88,289.28 L1014.25,284.95 L1016.93,280.96 L1019.91,277.32 L1023.17,274.06 L1026.7,271.19 L1030.48,268.72Z"/>
<path class="w" d="M1131.05,467.16 L1135.57,464.16 L1139.71,460.58 L1143.46,456.45 L1146.79,451.79 L1149.68,446.64 L1152.12,441.02 L1154.07,434.97 L1155.55,428.52 L1156.53,421.72 L1157.01,414.61 L1156.98,407.23 L1156.46,399.62 L1155.43,391.84 L1153.91,383.94 L1151.91,375.95 L1149.43,367.93 L1146.5,359.93 L1143.13,352 L1139.34,344.19 L1135.16,336.54 L1130.61,329.1 L1125.72,321.93 L1120.51,315.05 L1115.03,308.52 L1109.31,302.38 L1103.38,296.66 L1097.27,291.4 L1091.03,286.63 L1084.69,282.38 L1078.3,278.68 L1071.88,275.54 L1065.49,273 L1059.16,271.06 L1052.93,269.74 L1046.84,269.04 L1040.93,268.97 L1035.22,269.53 L1029.77,270.71 L1024.59,272.51 L1019.73,274.92 L1030.56,268.67 L1035.42,266.26 L1040.59,264.46 L1046.05,263.28 L1051.75,262.72 L1057.67,262.79 L1063.76,263.49 L1069.99,264.81 L1076.32,266.75 L1082.71,269.29 L1089.12,272.43 L1095.52,276.13 L1101.85,280.38 L1108.09,285.15 L1114.2,290.41 L1120.13,296.13 L1125.86,302.27 L1131.34,308.8 L1136.54,315.68 L1141.43,322.85 L1145.98,330.29 L1150.17,337.94 L1153.95,345.75 L1157.32,353.68 L1160.26,361.68 L1162.73,369.7 L1164.74,377.69 L1166.26,385.59 L1167.28,393.37 L1167.81,400.98 L1167.83,408.36 L1167.35,415.47 L1166.37,422.27 L1164.9,428.72 L1162.94,434.77 L1160.51,440.39 L1157.62,445.54 L1154.29,450.2 L1150.54,454.33 L1146.39,457.91 L1141.87,460.91Z"/>
<path class="k" d="M1135.64,464.1 L1134.17,465.17 L1132.67,466.18 L1131.13,467.12 L1129.54,467.99 L1127.92,468.8 L1126.27,469.54 L1124.58,470.21 L1122.86,470.82 L1121.1,471.35 L1119.31,471.82 L1117.5,472.22 L1115.65,472.55 L1113.78,472.81 L1111.88,473 L1109.95,473.12 L1108,473.17 L1106.03,473.15 L1104.04,473.06 L1102.03,472.9 L1100,472.67 L1097.95,472.37 L1095.89,472 L1093.81,471.56 L1091.72,471.05 L1089.62,470.48 L1087.51,469.83 L1085.39,469.12 L1083.27,468.35 L1081.14,467.5 L1079,466.59 L1076.87,465.61 L1074.73,464.57 L1072.59,463.46 L1070.46,462.3 L1068.32,461.06 L1066.2,459.77 L1064.07,458.42 L1061.96,457 L1059.86,455.53 L1057.76,454 L1055.68,452.41 L1053.61,450.77 L1051.56,449.07 L1049.52,447.32 L1047.51,445.52 L1045.51,443.66 L1043.53,441.76 L1041.57,439.8 L1039.64,437.8 L1037.73,435.76 L1035.84,433.67 L1033.98,431.53 L1032.16,429.36 L1030.36,427.14 L1028.59,424.89 L1026.85,422.6 L1025.15,420.28 L1023.48,417.92 L1021.85,415.53 L1020.25,413.1 L1018.7,410.65 L1017.18,408.18 L1015.7,405.67 L1014.26,403.15 L1012.86,400.6 L1011.51,398.03 L1010.2,395.44 L1008.93,392.84 L1007.71,390.22 L1006.54,387.59 L1005.41,384.94 L1004.34,382.29 L1003.31,379.63 L1002.33,376.96 L1001.4,374.29 L1000.52,371.62 L999.69,368.94 L998.91,366.27 L998.19,363.6 L997.52,360.94 L996.9,358.28 L996.34,355.63 L995.83,353 L995.37,350.37 L994.97,347.76 L994.63,345.17 L994.34,342.59 L994.1,340.03 L993.93,337.49 L993.8,334.98 L993.74,332.49 L993.73,330.03 L993.77,327.6 L993.87,325.19 L994.03,322.82 L994.24,320.48 L994.51,318.17 L994.83,315.9 L995.21,313.67 L995.65,311.48 L996.14,309.33 L996.68,307.22 L997.28,305.16 L997.93,303.14 L998.63,301.16 L999.39,299.24 L1000.2,297.36 L1001.06,295.53 L1001.97,293.76 L1002.93,292.04 L1003.94,290.37 L1005,288.76 L1006.11,287.21 L1007.26,285.71 L1008.46,284.27 L1009.71,282.89 L1011.01,281.57 L1012.34,280.31 L1013.72,279.12 L1015.15,277.98 L1016.61,276.91 L1018.11,275.91 L1019.66,274.97 L1021.24,274.1 L1022.86,273.29 L1024.51,272.55"/>
<path class="n" d="M1026.2,271.88 L1027.93,271.27 L1029.68,270.74 L1031.47,270.27 L1033.29,269.87 L1035.13,269.54 L1037.01,269.28 L1038.91,269.09 L1040.83,268.97 L1042.78,268.92 L1044.75,268.94 L1046.74,269.03 L1048.76,269.19 L1050.79,269.42 L1052.83,269.72 L1054.9,270.09 L1056.97,270.53 L1059.06,271.03 L1061.16,271.61 L1063.27,272.25 L1065.39,272.96 L1067.51,273.74 L1069.64,274.59 L1071.78,275.5 L1073.92,276.47 L1076.05,277.52 L1078.19,278.62 L1080.33,279.79 L1082.46,281.02 L1084.59,282.32 L1086.71,283.67 L1088.82,285.08 L1090.93,286.56 L1093.02,288.09 L1095.1,289.67 L1097.17,291.32 L1099.22,293.02 L1101.26,294.77 L1103.28,296.57 L1105.28,298.43 L1107.26,300.33 L1109.21,302.28 L1111.15,304.28 L1113.06,306.33 L1114.94,308.42 L1116.8,310.55 L1118.63,312.73 L1120.43,314.94 L1122.19,317.2 L1123.93,319.49 L1125.63,321.81 L1127.3,324.17 L1128.93,326.56 L1130.53,328.98 L1132.09,331.43 L1133.61,333.91 L1135.09,336.41 L1136.52,338.94 L1137.92,341.49 L1139.27,344.06 L1140.58,346.65 L1141.85,349.25 L1143.07,351.87 L1144.24,354.5 L1145.37,357.15 L1146.45,359.8 L1147.48,362.46 L1148.46,365.13 L1149.39,367.8 L1150.27,370.47 L1151.09,373.14 L1151.87,375.82 L1152.59,378.48 L1153.26,381.15 L1153.88,383.8 L1154.45,386.45 L1154.96,389.09 L1155.41,391.72 L1155.81,394.33 L1156.16,396.92 L1156.44,399.5 L1156.68,402.06 L1156.86,404.59 L1156.98,407.11 L1157.05,409.59 L1157.06,412.06 L1157.01,414.49 L1156.91,416.9 L1156.75,419.27 L1156.54,421.61 L1156.27,423.91 L1155.95,426.18 L1155.57,428.41 L1155.13,430.61 L1154.65,432.76 L1154.1,434.87 L1153.51,436.93 L1152.86,438.95 L1152.15,440.92 L1151.4,442.85 L1150.59,444.73 L1149.73,446.55 L1148.82,448.33 L1147.86,450.05 L1146.84,451.71 L1145.78,453.33 L1144.68,454.88 L1143.52,456.38 L1142.32,457.82 L1141.07,459.2 L1139.78,460.52 L1138.44,461.78 L1137.06,462.97"/>
<path class="k" d="M1025.97,271.73 L1027.43,270.66 L1028.94,269.66 L1030.48,268.72 L1032.06,267.85 L1033.68,267.04 L1035.34,266.3 L1037.03,265.63 L1038.75,265.02 L1040.51,264.49 L1042.29,264.02 L1044.11,263.62 L1045.96,263.29 L1047.83,263.03 L1049.73,262.84 L1051.66,262.72 L1053.61,262.67 L1055.58,262.69 L1057.57,262.78 L1059.58,262.94 L1061.61,263.17 L1063.66,263.47 L1065.72,263.84 L1067.8,264.28 L1069.89,264.78 L1071.99,265.36 L1074.1,266 L1076.21,266.71 L1078.34,267.49 L1080.47,268.34 L1082.6,269.25 L1084.74,270.22 L1086.88,271.27 L1089.02,272.37 L1091.15,273.54 L1093.28,274.77 L1095.41,276.07 L1097.53,277.42 L1099.65,278.83 L1101.75,280.31 L1103.84,281.84 L1105.93,283.42 L1107.99,285.07 L1110.05,286.77 L1112.08,288.52 L1114.1,290.32 L1116.1,292.18 L1118.08,294.08 L1120.04,296.03 L1121.97,298.03 L1123.88,300.08 L1125.77,302.17 L1127.62,304.3 L1129.45,306.48 L1131.25,308.69 L1133.02,310.95 L1134.75,313.24 L1136.46,315.56 L1138.13,317.92 L1139.76,320.31 L1141.35,322.73 L1142.91,325.18 L1144.43,327.66 L1145.91,330.16 L1147.35,332.69 L1148.75,335.24 L1150.1,337.81 L1151.41,340.4 L1152.68,343 L1153.89,345.62 L1155.07,348.25 L1156.19,350.9 L1157.27,353.55 L1158.3,356.21 L1159.28,358.88 L1160.21,361.55 L1161.09,364.22 L1161.92,366.89 L1162.7,369.57 L1163.42,372.23 L1164.09,374.9 L1164.71,377.55 L1165.27,380.2 L1165.78,382.84 L1166.24,385.47 L1166.64,388.08 L1166.98,390.67 L1167.27,393.25 L1167.5,395.81 L1167.68,398.34 L1167.81,400.86 L1167.87,403.34 L1167.88,405.81 L1167.84,408.24 L1167.74,410.65 L1167.58,413.02 L1167.37,415.36 L1167.1,417.66 L1166.77,419.93 L1166.39,422.16 L1165.96,424.36 L1165.47,426.51 L1164.93,428.62 L1164.33,430.68 L1163.68,432.7 L1162.98,434.67 L1162.22,436.6 L1161.41,438.48 L1160.55,440.3 L1159.64,442.08 L1158.68,443.8 L1157.67,445.46 L1156.61,447.08 L1155.5,448.63 L1154.35,450.13 L1153.14,451.57 L1151.9,452.95 L1150.6,454.27 L1149.27,455.53 L1147.89,456.72 L1146.46,457.85 L1145,458.92 L1143.49,459.93 L1141.95,460.87 L1140.37,461.74 L1138.75,462.55 L1137.1,463.29"/>
<path class="w" d="M986.3,359.3 L1006.1,346.5 L1016.5,341.3 L1020.8,340.9 L1032.1,343.9 L1045.2,350.9 L1058.2,363 L1066.9,375.2 L1075.6,396 L1079.5,409.8 L1078.9,426.5 L1074.1,435.9 L1067.4,442 L1053.9,450.5 L1041,456.9 L1038.4,458.2 L1037.4,448.1 L1035.3,434.6 L1029.3,417.7 L1020.4,403.8 L1011.1,389.9 L1001.8,377.5 L991.8,366.7 L983.3,359.7Z"/>
<path class="k" d="M987,359.5 C988.58,358.42 993.32,355.17 996.5,353 C999.68,350.83 1003.78,348.17 1006.1,346.5 C1008.42,344.83 1008.67,343.87 1010.4,343 C1012.13,342.13 1014.77,341.65 1016.5,341.3 C1018.23,340.95 1018.2,340.47 1020.8,340.9 C1023.4,341.33 1028.03,342.23 1032.1,343.9 C1036.17,345.57 1040.85,347.72 1045.2,350.9 C1049.55,354.08 1054.58,358.95 1058.2,363 C1061.82,367.05 1064,369.7 1066.9,375.2 C1069.8,380.7 1073.5,390.23 1075.6,396 C1077.7,401.77 1078.95,404.72 1079.5,409.8 C1080.05,414.88 1079.8,422.15 1078.9,426.5 C1078,430.85 1076.02,433.32 1074.1,435.9 C1072.18,438.48 1069.65,440.42 1067.4,442 C1065.15,443.58 1062.85,443.98 1060.6,445.4 C1058.35,446.82 1055.02,449.65 1053.9,450.5"/>
<path class="n" d="M1017.4,342.6 L1055.6,364.8"/>
<path class="n" d="M1055.6,364.8 C1056.75,366.23 1059.9,369.07 1062.5,373.4 C1065.1,377.73 1068.73,384.13 1071.2,390.8 C1073.67,397.47 1076.13,408.75 1077.3,413.4 C1078.47,418.05 1078.05,417.82 1078.2,418.7"/>
<path class="n" d="M988.6,359 L1021.8,379 L1028.8,381.4"/>
<path class="n" d="M1029.5,382.1 L1057.3,366.5"/>
<path class="n" d="M1028.8,381.4 C1029.05,382.82 1028.63,384.17 1030.3,389.9 C1031.97,395.63 1036.33,409.48 1038.8,415.8 C1041.27,422.12 1043.27,424.67 1045.1,427.8 C1046.93,430.93 1049.02,433.47 1049.8,434.6"/>
<path class="n" d="M1021.8,379 L1030.3,389.9"/>
<path class="n" d="M1049.8,434.6 L1078.2,418.7"/>
<path class="n" d="M1078.2,419.7 L1060.6,444.7 L1053.9,450.1"/>
<path class="n" d="M1049.8,434.6 L1040,446.8"/>
<path class="n" d="M1045.1,429.2 L1045.1,439.3"/>
<path class="k" d="M1041,456.9 L1053.9,450.5"/>
<path class="n" d="M989.5,359.3 C991.5,360.8 997.17,364.38 1001.5,368.3 C1005.83,372.22 1011.5,378.05 1015.5,382.8 C1019.5,387.55 1022.58,391.63 1025.5,396.8 C1028.42,401.97 1031,408.47 1033,413.8 C1035,419.13 1036.25,423.97 1037.5,428.8 C1038.75,433.63 1040,440.47 1040.5,442.8"/>
<path class="n dsh" d="M1043.7,346.5 L1067.8,333.4 L1109.3,342.3 L1140.2,327.2"/>
<path class="n dsh" d="M1413.2,560.7 L1437.3,547.6 L1478.8,556.5 L1509.7,541.4"/>
<path class="n dsh" d="M1080.7,408.9 L1094.9,401.5 L1135.4,409.6 L1165.1,393.4"/>
<path class="n dsh" d="M1450.2,623.1 L1464.4,615.7 L1504.9,623.8 L1534.6,607.6"/>
<path class="w" d="M987.3,563.7 L974.6,555.7 L954.3,542.2 L934.1,524.6 L919.2,511.1 L911.1,497.6 L901.6,477.3 L893.5,450.3 L889.5,430 L887.7,412.2 L888.7,397.7 L891.6,385.2 L897.4,375.5 L906.1,370.7 L920,362 L934,353.8 L939.8,350.9 L951.4,348.5 L962,349.5 L976.5,355.8 L986.2,360.6 L1355.8,573.9 L1364.3,580.9 L1374.3,591.7 L1383.6,604.1 L1392.9,618 L1401.8,631.9 L1407.8,648.8 L1409.9,662.3 L1410.9,672.4 L1409.9,684.9 L1403.7,705 L1394.4,715.8 L1379,725.1 L1363.6,732.8 L1348.1,740.5 L1329.6,745.2 L1309.5,743.6 L1294.1,739 L1270.9,728.2 L1240,710.4 L1178.2,678.2 L1131.4,652.9 L1060,610Z"/>
<path class="n" d="M986.2,359.9 L1151,455.3"/>
<path class="k" d="M1151,455.3 L1355.8,573.9"/>
<path class="k" d="M986.2,360.6 C984.58,359.8 980.53,357.65 976.5,355.8 C972.47,353.95 966.18,350.72 962,349.5 C957.82,348.28 955.1,348.27 951.4,348.5 C947.7,348.73 942.7,350.02 939.8,350.9 C936.9,351.78 937.3,351.95 934,353.8 C930.7,355.65 924.65,359.18 920,362 C915.35,364.82 909.87,368.45 906.1,370.7 C902.33,372.95 899.82,373.08 897.4,375.5 C894.98,377.92 893.05,381.5 891.6,385.2 C890.15,388.9 889.35,393.2 888.7,397.7 C888.05,402.2 887.57,406.82 887.7,412.2 C887.83,417.58 888.53,423.65 889.5,430 C890.47,436.35 891.48,442.42 893.5,450.3 C895.52,458.18 898.67,469.42 901.6,477.3 C904.53,485.18 908.17,491.97 911.1,497.6 C914.03,503.23 917.85,508.85 919.2,511.1"/>
<path class="k" d="M919.2,511.1 C921.68,513.35 928.25,519.42 934.1,524.6 C939.95,529.78 947.55,537.02 954.3,542.2 C961.05,547.38 969.1,552.12 974.6,555.7 C980.1,559.28 985.18,562.37 987.3,563.7"/>
<path class="k" d="M1355.8,573.9 C1357.22,575.07 1361.22,577.93 1364.3,580.9 C1367.38,583.87 1371.08,587.83 1374.3,591.7 C1377.52,595.57 1380.5,599.72 1383.6,604.1 C1386.7,608.48 1389.87,613.37 1392.9,618 C1395.93,622.63 1399.32,626.77 1401.8,631.9 C1404.28,637.03 1406.45,643.73 1407.8,648.8 C1409.15,653.87 1409.38,658.37 1409.9,662.3 C1410.42,666.23 1410.9,668.63 1410.9,672.4 C1410.9,676.17 1411.1,679.47 1409.9,684.9 C1408.7,690.33 1406.28,699.85 1403.7,705 C1401.12,710.15 1398.52,712.45 1394.4,715.8 C1390.28,719.15 1384.13,722.27 1379,725.1 C1373.87,727.93 1368.75,730.23 1363.6,732.8 C1358.45,735.37 1353.77,738.43 1348.1,740.5 C1342.43,742.57 1336.03,744.68 1329.6,745.2 C1323.17,745.72 1315.42,744.63 1309.5,743.6 C1303.58,742.57 1300.53,741.57 1294.1,739 C1287.67,736.43 1279.92,732.97 1270.9,728.2 C1261.88,723.43 1255.45,718.73 1240,710.4 C1224.55,702.07 1196.3,687.78 1178.2,678.2 C1160.1,668.62 1139.2,657.12 1131.4,652.9"/>
<path class="n" d="M906.1,370.7 C907.38,370.95 911.23,371.23 913.8,372.2 C916.37,373.17 918.77,374.5 921.5,376.5 C924.23,378.5 927.15,381.3 930.2,384.2 C933.25,387.1 936.58,391 939.8,393.9 C943.02,396.8 945.8,398.7 949.5,401.6 C953.2,404.5 957.5,408.18 962,411.3 C966.5,414.42 970.17,416.6 976.5,420.3 C982.83,424 990.35,428.6 1000,433.5 C1009.65,438.4 1018.23,440.72 1034.4,449.7 C1050.57,458.68 1076.07,474.83 1097,487.4 C1117.93,499.97 1141.78,514.67 1160,525.1 C1178.22,535.53 1191.62,541.98 1206.3,550 C1220.98,558.02 1237.47,567.32 1248.1,573.2 C1258.73,579.08 1263.53,582.03 1270.1,585.3 C1276.67,588.57 1281.72,590.48 1287.5,592.8 C1293.28,595.12 1299.38,596.97 1304.8,599.2 C1310.22,601.43 1315.62,603.55 1320,606.2 C1324.38,608.85 1325.77,610.43 1331.1,615.1 C1336.43,619.77 1345.77,627.17 1352,634.2 C1358.23,641.23 1363.97,650 1368.5,657.3 C1373.03,664.6 1377.07,671.58 1379.2,678 C1381.33,684.42 1381.58,689.5 1381.3,695.8 C1381.02,702.1 1380.38,709.68 1377.5,715.8 C1374.62,721.92 1366.25,729.72 1364,732.5"/>
<path class="t dsh2" d="M1247.9,512 L1247.9,714"/>
<path class="w" d="M987.3,563.7 L978,563.7 L968.8,566.6 L953.7,577.1 L936.3,589.8 L919,603.7 L909.7,611.8 L902.7,623.4 L897,638.5 L893.5,660 L890.5,690 L887.7,712.9 L884,745 L881,772 L878.5,797.9 L878.3,821.1 L885.1,848.1 L896.7,871.3 L912.1,890.6 L927.6,902.2 L943,905 L943,905 L958.5,900.2 L972,888.6 L981.6,871.3 L987.4,852 L993.2,817.2 L999,778.6 L1006.5,752 L1019,730 L1042.2,712 L1065.7,700 L1073.4,692.9 L1080.3,683.6 L1081.9,675.9 L1079.6,660.5 L1073.4,645 L1064.1,629.6 L1051.8,614.1 L1036.3,598.7 L1020.9,586.3 L1005.4,575.5 L988.4,564.6Z"/>
<path class="w" d="M988.4,563.2 L990,552.4 L997.7,546.2 L1010.1,542.3 L1025.5,543.9 L1044.1,552.4 L1061,566.3 L1076.5,586.3 L1088.8,609.5 L1098.1,632.7 L1103.5,654.3 L1102.7,666.6 L1098.1,675.9 L1088.8,682.1 L1081.1,683.6 L1079.2,684.5Z"/>
<path class="n" d="M988.4,563.2 C988.67,561.4 988.45,555.23 990,552.4 C991.55,549.57 994.35,547.88 997.7,546.2 C1001.05,544.52 1005.47,542.68 1010.1,542.3 C1014.73,541.92 1019.83,542.22 1025.5,543.9 C1031.17,545.58 1038.18,548.67 1044.1,552.4 C1050.02,556.13 1055.6,560.65 1061,566.3 C1066.4,571.95 1071.87,579.1 1076.5,586.3 C1081.13,593.5 1085.2,601.77 1088.8,609.5 C1092.4,617.23 1095.65,625.23 1098.1,632.7 C1100.55,640.17 1102.73,648.65 1103.5,654.3 C1104.27,659.95 1103.6,663 1102.7,666.6 C1101.8,670.2 1100.42,673.32 1098.1,675.9 C1095.78,678.48 1091.63,680.82 1088.8,682.1 C1085.97,683.38 1082.38,683.35 1081.1,683.6"/>
<path class="n" d="M988.4,563.5 C990.22,562.15 995.68,557.52 999.3,555.4 C1002.92,553.28 1006.5,551.7 1010.1,550.8 C1013.7,549.9 1016.53,549.23 1020.9,550 C1025.27,550.77 1031.15,552.68 1036.3,555.4 C1041.45,558.12 1046.65,561.67 1051.8,566.3 C1056.95,570.93 1062.32,576.77 1067.2,583.2 C1072.08,589.63 1076.98,597.43 1081.1,604.9 C1085.22,612.37 1089.2,620.28 1091.9,628 C1094.6,635.72 1096.52,645.27 1097.3,651.2 C1098.08,657.13 1097.5,660 1096.6,663.6 C1095.7,667.2 1094.22,670.62 1091.9,672.8 C1089.58,674.98 1084.23,676.05 1082.7,676.7"/>
<path class="n" d="M988.4,564.6 C991.23,566.42 999.98,571.88 1005.4,575.5 C1010.82,579.12 1015.75,582.43 1020.9,586.3 C1026.05,590.17 1031.15,594.07 1036.3,598.7 C1041.45,603.33 1047.17,608.95 1051.8,614.1 C1056.43,619.25 1060.5,624.45 1064.1,629.6 C1067.7,634.75 1070.82,639.85 1073.4,645 C1075.98,650.15 1078.18,655.35 1079.6,660.5 C1081.02,665.65 1081.78,672.05 1081.9,675.9 C1082.02,679.75 1081.72,680.77 1080.3,683.6 C1078.88,686.43 1075.83,690.17 1073.4,692.9 C1070.97,695.63 1070.9,696.82 1065.7,700 C1060.5,703.18 1049.98,707 1042.2,712 C1034.42,717 1024.95,723.33 1019,730 C1013.05,736.67 1009.83,743.9 1006.5,752 C1003.17,760.1 1001.22,767.73 999,778.6 C996.78,789.47 995.13,804.97 993.2,817.2 C991.27,829.43 989.33,842.98 987.4,852 C985.47,861.02 984.17,865.2 981.6,871.3 C979.03,877.4 975.85,883.78 972,888.6 C968.15,893.42 963.33,897.47 958.5,900.2 C953.67,902.93 945.58,904.2 943,905"/>
<path class="n" d="M1002.8,543.1 C1007.05,540.2 1020.43,531.05 1028.3,525.7 C1036.17,520.35 1044.72,514.45 1050,511 C1055.28,507.55 1056.67,506.6 1060,505 C1063.33,503.4 1067.18,502.18 1070,501.4 C1072.82,500.62 1075.75,500.48 1076.9,500.3"/>
<path class="n" d="M1119.5,528.1 C1121.75,531.93 1129.18,542.77 1133,551.1 C1136.82,559.43 1140.03,568.28 1142.4,578.1 C1144.77,587.92 1146.92,600.02 1147.2,610 C1147.48,619.98 1145.85,631.55 1144.1,638 C1142.35,644.45 1138.82,646.22 1136.7,648.7 C1134.58,651.18 1134.93,650.52 1131.4,652.9 C1127.87,655.28 1118.15,661.32 1115.5,663"/>
<path class="n" d="M1081.1,683.6 L1115.5,663"/>
<path class="k" d="M987.3,563.7 C985.75,563.7 981.08,563.22 978,563.7 C974.92,564.18 972.85,564.37 968.8,566.6 C964.75,568.83 959.12,573.23 953.7,577.1 C948.28,580.97 942.08,585.37 936.3,589.8 C930.52,594.23 923.43,600.03 919,603.7 C914.57,607.37 912.42,608.52 909.7,611.8 C906.98,615.08 904.82,618.95 902.7,623.4 C900.58,627.85 898.53,632.4 897,638.5 C895.47,644.6 894.58,651.42 893.5,660 C892.42,668.58 891.47,681.18 890.5,690 C889.53,698.82 888.78,703.73 887.7,712.9 C886.62,722.07 885.12,735.15 884,745 C882.88,754.85 881.92,763.18 881,772 C880.08,780.82 878.95,789.72 878.5,797.9 C878.05,806.08 877.2,812.73 878.3,821.1 C879.4,829.47 882.03,839.73 885.1,848.1 C888.17,856.47 892.2,864.22 896.7,871.3 C901.2,878.38 906.95,885.45 912.1,890.6 C917.25,895.75 922.45,899.8 927.6,902.2 C932.75,904.6 940.43,904.53 943,905"/>
<path class="n" d="M919,604.9 C920.92,603.73 926.27,599.93 930.5,597.9 C934.73,595.87 940.33,593.67 944.4,592.7 C948.47,591.73 950.83,591.42 954.9,592.1 C958.97,592.78 964.17,594.48 968.8,596.8 C973.43,599.12 978.47,601.95 982.7,606 C986.93,610.05 990.73,615.5 994.2,621.1 C997.67,626.7 1000.98,633.12 1003.5,639.6 C1006.02,646.08 1008.12,652.43 1009.3,660 C1010.48,667.57 1010.82,675.52 1010.6,685 C1010.38,694.48 1009.62,706.9 1008,716.9 C1006.38,726.9 1003.05,736.32 1000.9,745 C998.75,753.68 997.35,757.93 995.1,769 C992.85,780.07 989.65,798.53 987.4,811.4 C985.15,824.27 983.53,836.22 981.6,846.2 C979.67,856.18 978.7,863.9 975.8,871.3 C972.9,878.7 968.38,885.45 964.2,890.6 C960.02,895.75 954.23,899.8 950.7,902.2 C947.17,904.6 944.28,904.53 943,905"/>
<path class="t" d="M800,674.7 L1109,495.6"/>
<path class="n" d="M1115.5,663.5 C1117.08,664.75 1121.28,668.87 1125,671 C1128.72,673.13 1133.02,675.07 1137.8,676.3 C1142.58,677.53 1148.93,678.23 1153.7,678.4 C1158.47,678.57 1162.87,677.83 1166.4,677.3 C1169.93,676.77 1173.48,675.55 1174.9,675.2"/>
<path class="k" d="M1129.8,674.1 C1129.8,677.12 1128.47,687.77 1129.8,692.2 C1131.13,696.63 1133.82,698.67 1137.8,700.7 C1141.78,702.73 1148.4,704.23 1153.7,704.4 C1159,704.57 1165.35,703.73 1169.6,701.7 C1173.85,699.67 1177.52,696.08 1179.2,692.2 C1180.88,688.32 1179.62,680.7 1179.7,678.4"/>
<path class="t" d="M1120.8,661.5 L1120.8,668"/>
<path class="t" d="M1125,655.5 L1125,671"/>
<path class="t" d="M1163.2,669.6 L1163.2,677.8"/>
<path class="t" d="M1169.1,673 L1169.1,676.5"/>
</g>
<g class="tx" transform="matrix(0.87,0.5,-0.87,0.5,1511.5,286.7)" style="stroke-width:var(--ts,3.2)"><path transform="translate(0,0)" d="M-1.3,-22.3 C0,-27 4.5,-29.4 9.5,-29.4 C15.5,-29.4 19.8,-26 19.8,-21.5 C19.8,-18.5 18.8,-16.5 16.8,-14.5 L0,0 H20.2"/><path transform="translate(27.3,0)" d="M1.5,-14.1 A11.7,14.9 0 1,0 24.9,-14.1 A11.7,14.9 0 1,0 1.5,-14.1Z"/><path transform="translate(57.6,0)" d="M1.5,-14.1 A11.7,14.9 0 1,0 24.9,-14.1 A11.7,14.9 0 1,0 1.5,-14.1Z"/></g>
<g class="tx" transform="matrix(0.87,0.5,-0.87,0.5,1396.95,293.55)" style="stroke-width:var(--ts,3.2)"><path transform="translate(0,0)" d="M0,0 H19.7 M9.8,0 V-28.2 L-0.1,-23"/><path transform="translate(28.9,0)" d="M19,-27.4 L2.2,-26.8 L1.35,-14.75 C4.5,-16.8 8,-17.5 11.5,-17.5 C17.5,-17.5 21.6,-13.8 21.6,-9.2 C21.6,-4 17.5,-0.6 11.8,-0.6 C7.5,-0.6 3.8,-1.5 1.8,-3.4"/><path transform="translate(57.6,0)" d="M1.5,-14.1 A11.7,14.9 0 1,0 24.9,-14.1 A11.7,14.9 0 1,0 1.5,-14.1Z"/><path transform="translate(91.1,0)" d="M0,-15.2 H21.4 M10.7,-24.8 V-5.7 M0.8,-0.3 H21.8"/><path transform="translate(123.9,0)" d="M0,0 H19.7 M9.8,0 V-28.2 L-0.1,-23"/><path transform="translate(152.1,0)" d="M19,-27.4 L2.2,-26.8 L1.35,-14.75 C4.5,-16.8 8,-17.5 11.5,-17.5 C17.5,-17.5 21.6,-13.8 21.6,-9.2 C21.6,-4 17.5,-0.6 11.8,-0.6 C7.5,-0.6 3.8,-1.5 1.8,-3.4"/></g>
<g class="tx" transform="matrix(0.81,-0.47,0,0.94,1649.2,511.9)" style="stroke-width:var(--ts,2.9)"><path transform="translate(-42,0)" d="M27,-23 C25,-27.5 20.5,-29.5 16,-29.5 C7,-29.5 1,-23 1,-14.5 C1,-5.5 7,0.5 15.5,0.5 C21,0.5 26,-2 29,-6.5 V-13.5 H17.7"/><path transform="translate(0,0)" d="M0,0 H19.7 M9.8,0 V-28.2 L-0.1,-23"/><path transform="translate(26,0)" d="M0,0.7 L18.9,-28.4"/><path transform="translate(53,0)" d="M-1.3,-22.3 C0,-27 4.5,-29.4 9.5,-29.4 C15.5,-29.4 19.8,-26 19.8,-21.5 C19.8,-18.5 18.8,-16.5 16.8,-14.5 L0,0 H20.2"/></g>
<g class="tx" transform="matrix(0.81,-0.47,0,0.94,1055.4,934)" style="stroke-width:var(--ts,3.1)"><path transform="translate(0,0)" d="M0,0 H19.7 M9.8,0 V-28.2 L-0.1,-23"/><path transform="translate(28.5,0)" d="M18.8,0 V-27 L0.4,-7 H22.7"/><path transform="translate(60,0)" d="M18.8,0 V-27 L0.4,-7 H22.7"/></g>
<g class="tx" transform="matrix(0.81,-0.47,0,0.94,1089,821.1)" style="stroke-width:var(--ts,3.1)"><path transform="translate(0,0)" d="M18.8,0 V-27 L0.4,-7 H22.7"/><path transform="translate(34,0)" d="M10.5,-15.5 C5.5,-15.5 2.5,-18.5 2.5,-22.3 C2.5,-26.5 6,-29 10.5,-29 C15,-29 18.5,-26.5 18.5,-22.3 C18.5,-18.5 15.5,-15.5 10.5,-15.5 C5,-15.5 1,-12.2 1,-7.4 C1,-2.6 5,0.2 10.5,0.2 C16,0.2 20,-2.6 20,-7.4 C20,-12.2 16,-15.5 10.5,-15.5Z"/></g>
<g class="tx" transform="matrix(0,-1,0.94,-0.54,801.1,848.6)" style="stroke-width:var(--ts,3)"><path transform="translate(0,0)" d="M0,0 H19.7 M9.8,0 V-28.2 L-0.1,-23"/><path transform="translate(22.3,0)" d="M1.5,-14.1 A11.7,14.9 0 1,0 24.9,-14.1 A11.7,14.9 0 1,0 1.5,-14.1Z"/><path transform="translate(52,0)" d="M1.5,-23.5 C3,-27.3 6.5,-29 10.5,-29 C15,-29 18.5,-26.3 18.5,-22 C18.5,-17.8 15,-15.3 10,-15.3 C15.5,-15.3 20,-12 20,-7.2 C20,-2.4 16,0.2 10.5,0.2 C6,0.2 2.5,-1.8 1,-5.2"/></g>
<g transform="matrix(0.3603,0,0,0.3603,-135.3,110.1)" style="--t:2.6px;--n:2.8px;--k:3.8px;--ts:3.6px;--th:1.6px;--da:15 6">
<use href="#big"/>
<g class="tx" transform="matrix(0.74,0.43,-0.74,0.43,1518.02,288.51)" style="stroke-width:var(--ts,3.2)"><path transform="translate(0,0)" d="M-1.3,-22.3 C0,-27 4.5,-29.4 9.5,-29.4 C15.5,-29.4 19.8,-26 19.8,-21.5 C19.8,-18.5 18.8,-16.5 16.8,-14.5 L0,0 H20.2"/><path transform="translate(27.3,0)" d="M1.5,-14.1 A11.7,14.9 0 1,0 24.9,-14.1 A11.7,14.9 0 1,0 1.5,-14.1Z"/><path transform="translate(57.6,0)" d="M1.5,-14.1 A11.7,14.9 0 1,0 24.9,-14.1 A11.7,14.9 0 1,0 1.5,-14.1Z"/></g>
<g class="tx" transform="matrix(0.74,0.43,-0.74,0.43,1409.2,298.66)" style="stroke-width:var(--ts,3.2)"><path transform="translate(0,0)" d="M0,0 H19.7 M9.8,0 V-28.2 L-0.1,-23"/><path transform="translate(28.9,0)" d="M19,-27.4 L2.2,-26.8 L1.35,-14.75 C4.5,-16.8 8,-17.5 11.5,-17.5 C17.5,-17.5 21.6,-13.8 21.6,-9.2 C21.6,-4 17.5,-0.6 11.8,-0.6 C7.5,-0.6 3.8,-1.5 1.8,-3.4"/><path transform="translate(57.6,0)" d="M1.5,-14.1 A11.7,14.9 0 1,0 24.9,-14.1 A11.7,14.9 0 1,0 1.5,-14.1Z"/><path transform="translate(91.1,0)" d="M0,-15.2 H21.4 M10.7,-24.8 V-5.7 M0.8,-0.3 H21.8"/><path transform="translate(123.9,0)" d="M0,0 H19.7 M9.8,0 V-28.2 L-0.1,-23"/><path transform="translate(152.1,0)" d="M19,-27.4 L2.2,-26.8 L1.35,-14.75 C4.5,-16.8 8,-17.5 11.5,-17.5 C17.5,-17.5 21.6,-13.8 21.6,-9.2 C21.6,-4 17.5,-0.6 11.8,-0.6 C7.5,-0.6 3.8,-1.5 1.8,-3.4"/></g>
<g class="tx" transform="matrix(0.7,-0.4,0,0.81,1651.08,508.97)" style="stroke-width:var(--ts,2.9)"><path transform="translate(-42,0)" d="M27,-23 C25,-27.5 20.5,-29.5 16,-29.5 C7,-29.5 1,-23 1,-14.5 C1,-5.5 7,0.5 15.5,0.5 C21,0.5 26,-2 29,-6.5 V-13.5 H17.7"/><path transform="translate(0,0)" d="M0,0 H19.7 M9.8,0 V-28.2 L-0.1,-23"/><path transform="translate(26,0)" d="M0,0.7 L18.9,-28.4"/><path transform="translate(53,0)" d="M-1.3,-22.3 C0,-27 4.5,-29.4 9.5,-29.4 C15.5,-29.4 19.8,-26 19.8,-21.5 C19.8,-18.5 18.8,-16.5 16.8,-14.5 L0,0 H20.2"/></g>
<g class="tx" transform="matrix(0.7,-0.4,0,0.81,1060.07,929.46)" style="stroke-width:var(--ts,3.1)"><path transform="translate(0,0)" d="M0,0 H19.7 M9.8,0 V-28.2 L-0.1,-23"/><path transform="translate(28.5,0)" d="M18.8,0 V-27 L0.4,-7 H22.7"/><path transform="translate(60,0)" d="M18.8,0 V-27 L0.4,-7 H22.7"/></g>
<g class="tx" transform="matrix(0.7,-0.4,0,0.81,1092.19,817.42)" style="stroke-width:var(--ts,3.1)"><path transform="translate(0,0)" d="M18.8,0 V-27 L0.4,-7 H22.7"/><path transform="translate(34,0)" d="M10.5,-15.5 C5.5,-15.5 2.5,-18.5 2.5,-22.3 C2.5,-26.5 6,-29 10.5,-29 C15,-29 18.5,-26.5 18.5,-22.3 C18.5,-18.5 15.5,-15.5 10.5,-15.5 C5,-15.5 1,-12.2 1,-7.4 C1,-2.6 5,0.2 10.5,0.2 C16,0.2 20,-2.6 20,-7.4 C20,-12.2 16,-15.5 10.5,-15.5Z"/></g>
<g class="tx" transform="matrix(0,-0.86,0.8,-0.46,799.27,844.48)" style="stroke-width:var(--ts,3)"><path transform="translate(0,0)" d="M0,0 H19.7 M9.8,0 V-28.2 L-0.1,-23"/><path transform="translate(22.3,0)" d="M1.5,-14.1 A11.7,14.9 0 1,0 24.9,-14.1 A11.7,14.9 0 1,0 1.5,-14.1Z"/><path transform="translate(52,0)" d="M1.5,-23.5 C3,-27.3 6.5,-29 10.5,-29 C15,-29 18.5,-26.3 18.5,-22 C18.5,-17.8 15,-15.3 10,-15.3 C15.5,-15.3 20,-12 20,-7.2 C20,-2.4 16,0.2 10.5,0.2 C6,0.2 2.5,-1.8 1,-5.2"/></g>
<path class="t" d="M1074.9,741.9 L1139.4,705.3"/>
<g class="tx" transform="matrix(0.7,-0.41,0,0.81,1082.25,777.02)" style="stroke-width:var(--ts,3)"><path transform="translate(-40,0)" d="M27,-23 C25,-27.5 20.5,-29.5 16,-29.5 C7,-29.5 1,-23 1,-14.5 C1,-5.5 7,0.5 15.5,0.5 C21,0.5 26,-2 29,-6.5 V-13.5 H17.7"/><path transform="translate(0,0)" d="M0,0 H19.7 M9.8,0 V-28.2 L-0.1,-23"/><path transform="translate(24.6,0)" d="M0,0.7 L18.9,-28.4"/><path transform="translate(50.2,0)" d="M-1.3,-22.3 C0,-27 4.5,-29.4 9.5,-29.4 C15.5,-29.4 19.8,-26 19.8,-21.5 C19.8,-18.5 18.8,-16.5 16.8,-14.5 L0,0 H20.2"/></g>
</g>
</svg>
</body></html>
